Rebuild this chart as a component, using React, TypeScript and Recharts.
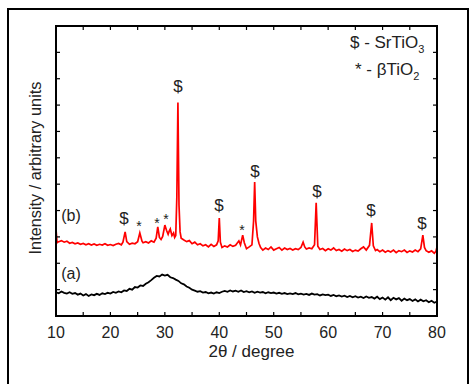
import { LineChart, Line, XAxis, YAxis, ReferenceDot, ReferenceLine } from 'recharts';

const FONT = '"Liberation Sans", Arial, Helvetica, sans-serif';

// (a) amorphous sample, 0.5 degree steps
const twoThetaA = [
  10, 10.5, 11, 11.5, 12, 12.5, 13, 13.5, 14, 14.5, 15, 15.5, 16, 16.5, 17, 17.5, 18, 18.5, 19, 19.5,
  20, 20.5, 21, 21.5, 22, 22.5, 23, 23.5, 24, 24.5, 25, 25.5, 26, 26.5, 27, 27.5, 28, 28.5, 29, 29.5,
  30, 30.5, 31, 31.5, 32, 32.5, 33, 33.5, 34, 34.5, 35, 35.5, 36, 36.5, 37, 37.5, 38, 38.5, 39, 39.5,
  40, 40.5, 41, 41.5, 42, 42.5, 43, 43.5, 44, 44.5, 45, 45.5, 46, 46.5, 47, 47.5, 48, 48.5, 49, 49.5,
  50, 50.5, 51, 51.5, 52, 52.5, 53, 53.5, 54, 54.5, 55, 55.5, 56, 56.5, 57, 57.5, 58, 58.5, 59, 59.5,
  60, 60.5, 61, 61.5, 62, 62.5, 63, 63.5, 64, 64.5, 65, 65.5, 66, 66.5, 67, 67.5, 68, 68.5, 69, 69.5,
  70, 70.5, 71, 71.5, 72, 72.5, 73, 73.5, 74, 74.5, 75, 75.5, 76, 76.5, 77, 77.5, 78, 78.5, 79, 79.5,
  80,
];
const intensityA = [
  0.9, 0.86, 0.93, 0.88, 0.85, 0.9, 0.84, 0.87, 0.81, 0.85, 0.78, 0.83, 0.76, 0.82, 0.79, 0.84, 0.8, 0.86, 0.83, 0.88,
  0.85, 0.91, 0.88, 0.93, 0.9, 0.97, 0.95, 1.03, 1.0, 1.1, 1.08, 1.16, 1.14, 1.22, 1.28, 1.36, 1.45, 1.52, 1.5, 1.57,
  1.53, 1.56, 1.47, 1.44, 1.38, 1.33, 1.24, 1.2, 1.12, 1.07, 1.0, 0.96, 0.92, 0.94, 0.89, 0.91, 0.86, 0.89, 0.85, 0.9,
  0.87, 0.92, 0.95, 0.92, 0.97, 0.93, 0.96, 0.92, 0.97, 0.91, 0.94, 0.9, 0.93, 0.88, 0.92, 0.89, 0.91, 0.86, 0.9, 0.87,
  0.89, 0.85, 0.88, 0.84, 0.87, 0.83, 0.86, 0.83, 0.87, 0.82, 0.85, 0.81, 0.84, 0.8, 0.85, 0.81, 0.83, 0.78, 0.82, 0.79,
  0.81, 0.76, 0.8, 0.75, 0.78, 0.74, 0.77, 0.72, 0.76, 0.71, 0.75, 0.7, 0.73, 0.68, 0.74, 0.69, 0.72, 0.66, 0.73, 0.64,
  0.7, 0.62, 0.71, 0.6, 0.69, 0.63, 0.68, 0.58, 0.66, 0.6, 0.64, 0.57, 0.63, 0.55, 0.62, 0.56, 0.6, 0.52, 0.58, 0.5,
  0.55,
];

// (b) crystallised sample, denser around the peaks
const twoThetaB = [
  10, 10.2, 10.5, 11, 11.5, 12, 12.5, 13, 13.5, 14, 14.5, 15, 15.5, 16, 16.5, 17, 17.5, 18, 18.5, 19, 19.5,
  20, 20.5, 21, 21.5, 22, 22.3, 22.7, 23, 23.5, 24, 24.5, 25, 25.4, 25.8, 26, 26.5, 27, 27.5, 28, 28.4, 28.7,
  29, 29.3, 29.6, 30, 30.3, 30.6, 30.8, 31, 31.3, 31.6, 31.8, 32, 32.2, 32.4, 32.6, 32.8, 33, 33.5, 34, 34.5,
  35, 35.5, 36, 36.5, 37, 37.5, 38, 38.5, 39, 39.5, 39.8, 40, 40.2, 40.5, 41, 41.5, 42, 42.5, 43, 43.6, 43.9,
  44.3, 44.6, 45, 45.5, 46, 46.3, 46.5, 46.7, 47, 47.3, 47.6, 48, 48.5, 49, 49.5, 50, 50.5, 51, 51.5, 52, 52.5,
  53, 53.5, 54, 54.5, 55, 55.4, 55.7, 56, 56.5, 57, 57.5, 57.8, 58.1, 58.5, 59, 59.5, 60, 60.5, 61, 61.5, 62,
  62.5, 63, 63.5, 64, 64.5, 65, 65.5, 66, 66.5, 67, 67.6, 68, 68.3, 68.7, 69, 69.5, 70, 70.5, 71, 71.5, 72,
  72.5, 73, 73.5, 74, 74.5, 75, 75.5, 76, 76.5, 77, 77.4, 77.7, 78, 78.5, 79, 79.5, 79.8, 80,
];
const intensityB = [
  3.3, 2.78, 2.82, 2.86, 2.8, 2.84, 2.76, 2.79, 2.74, 2.77, 2.72, 2.75, 2.7, 2.74, 2.69, 2.73, 2.68, 2.72, 2.69, 2.74, 2.68,
  2.71, 2.67, 2.72, 2.75, 2.7, 2.8, 3.19, 2.82, 2.72, 2.76, 2.74, 2.82, 3.15, 2.84, 2.78, 2.82, 2.77, 2.85, 2.8, 2.95, 3.38,
  2.98, 2.9, 3.02, 3.45, 3.25, 3.1, 3.22, 3.3, 3.05, 3.15, 2.98, 3.05, 4.5, 8.1, 4.2, 3.19, 2.95, 2.88, 2.82, 2.86,
  2.74, 2.8, 2.7, 2.74, 2.66, 2.7, 2.62, 2.72, 2.64, 2.7, 2.85, 3.72, 2.8, 2.6, 2.66, 2.62, 2.7, 2.64, 2.68, 2.85, 2.7,
  3.07, 2.78, 2.55, 2.62, 2.7, 3.6, 5.08, 3.6, 3.0, 2.75, 2.6, 2.5, 2.58, 2.52, 2.62, 2.5, 2.55, 2.6, 2.5, 2.58, 2.52,
  2.56, 2.5, 2.55, 2.52, 2.6, 2.8, 2.62, 2.54, 2.58, 2.55, 2.7, 4.29, 2.65, 2.52, 2.56, 2.48, 2.55, 2.5, 2.58, 2.48, 2.52,
  2.46, 2.54, 2.48, 2.52, 2.45, 2.5, 2.46, 2.55, 2.62, 2.5, 2.68, 3.53, 2.66, 2.48, 2.52, 2.44, 2.5, 2.42, 2.48, 2.43, 2.5,
  2.4, 2.48, 2.44, 2.5, 2.41, 2.47, 2.43, 2.5, 2.44, 2.55, 3.07, 2.6, 2.48, 2.42, 2.47, 2.38, 2.45, 2.62,
];

// peak markers: $ = SrTiO3, * = beta-TiO2
const markX = [22.5, 25.25, 28.56, 30.2, 32.41, 39.95, 44.17, 46.56, 57.95, 67.87, 77.24];
const markY = [3.68, 3.53, 3.64, 3.79, 8.69, 4.21, 3.38, 5.5, 4.74, 4.02, 3.49];
const markText = ['$', '*', '*', '*', '$', '$', '*', '$', '$', '$', '$'];

const xTicks = [10, 15, 20, 25, 30, 35, 40, 45, 50, 55, 60, 65, 70, 75, 80];
const yTicks = [0, 1, 2, 3, 4, 5, 6, 7, 8, 9, 10, 11];

const dataA = twoThetaA.map((x, i) => ({ x, y: intensityA[i] }));
const dataB = twoThetaB.map((x, i) => ({ x, y: intensityB[i] }));

const axisLine = { stroke: '#000', strokeWidth: 1.6 };

const centerText = (text: string, size: number, dy = 0) => (props: any) => {
  const vb = props.viewBox || {};
  const cx = (vb.x ?? 0) + (vb.width ?? 0) / 2;
  const cy = (vb.y ?? 0) + (vb.height ?? 0) / 2;
  return (
    <text x={cx} y={cy + dy} textAnchor="middle" dominantBaseline="central" fontSize={size} fill="#222" fontFamily={FONT}>
      {text}
    </text>
  );
};

const legendText = (main: string, sub: string) => (props: any) => {
  const vb = props.viewBox || {};
  return (
    <text x={vb.x} y={vb.y} fontSize={17} fill="#222" fontFamily={FONT}>
      {main}
      <tspan dy={5} fontSize={11}>{sub}</tspan>
    </text>
  );
};

const noLabel = () => '';

export default function App() {
  return (
    <div style={{ position: 'absolute', left: 0, top: 0, width: 469, height: 384, overflow: 'hidden', background: '#fff' }}>
      <div
        style={{
          position: 'absolute', left: 7, top: 8, width: 462, height: 400,
          border: '2px solid #000', boxSizing: 'border-box',
        }}
      />
      <div style={{ position: 'absolute', left: 0, top: 0, zIndex: 1 }}>
        <LineChart width={469} height={384} margin={{ top: 25, right: 0, bottom: 38, left: 0 }}>
          <XAxis
            xAxisId="b"
            type="number"
            dataKey="x"
            domain={[10, 80]}
            ticks={xTicks}
            allowDataOverflow
            tickFormatter={(v) => (v % 10 === 0 ? String(v) : '')}
            tickSize={-4}
            tickMargin={15}
            height={30}
            stroke="#000"
            axisLine={axisLine}
            tickLine={{ stroke: '#000', strokeWidth: 1.2 }}
            tick={{ fill: '#222', fontSize: 16, fontFamily: FONT }}
            label={(props: any) => {
              const vb = props.viewBox || {};
              return (
                <text x={vb.x + vb.width / 2 + 5} y={357} textAnchor="middle" fontSize={17} fill="#222" fontFamily={FONT}>
                  2θ / degree
                </text>
              );
            }}
          />
          <XAxis
            xAxisId="t"
            orientation="top"
            type="number"
            dataKey="x"
            domain={[10, 80]}
            ticks={xTicks}
            allowDataOverflow
            tickFormatter={noLabel}
            tickSize={-4}
            height={1}
            stroke="#000"
            axisLine={axisLine}
            tickLine={{ stroke: '#000', strokeWidth: 1.2 }}
          />
          <YAxis
            yAxisId="l"
            type="number"
            domain={[0, 11]}
            ticks={yTicks}
            allowDataOverflow
            tickFormatter={noLabel}
            tickSize={-4}
            width={56}
            stroke="#000"
            axisLine={axisLine}
            tickLine={{ stroke: '#000', strokeWidth: 1.2 }}
            label={(props: any) => {
              const vb = props.viewBox || {};
              const cy = vb.y + vb.height / 2 - 3;
              return (
                <text x={35} y={cy} transform={`rotate(-90 35 ${cy})`} textAnchor="middle" dominantBaseline="central" fontSize={16.3} fill="#222" fontFamily={FONT}>
                  Intensity / arbitrary units
                </text>
              );
            }}
          />
          <YAxis
            yAxisId="r"
            orientation="right"
            type="number"
            domain={[0, 11]}
            ticks={yTicks}
            allowDataOverflow
            tickFormatter={noLabel}
            tickSize={-4}
            width={32}
            stroke="#000"
            axisLine={axisLine}
            tickLine={{ stroke: '#000', strokeWidth: 1.2 }}
          />
          {/* plot frame through the chart's own scales */}
          <ReferenceLine xAxisId="b" yAxisId="l" x={10} stroke="#000" strokeWidth={1.6} ifOverflow="visible" />
          <ReferenceLine xAxisId="b" yAxisId="l" x={80} stroke="#000" strokeWidth={1.6} ifOverflow="visible" />
          <ReferenceLine xAxisId="b" yAxisId="l" y={11} stroke="#000" strokeWidth={1.6} ifOverflow="visible" />
          <ReferenceLine xAxisId="b" yAxisId="l" y={0} stroke="#000" strokeWidth={1.6} ifOverflow="visible" />
          <Line
            xAxisId="b"
            yAxisId="l"
            data={dataA}
            dataKey="y"
            type="linear"
            stroke="#000"
            strokeWidth={1.8}
            dot={false}
            isAnimationActive={false}
          />
          <Line
            xAxisId="b"
            yAxisId="l"
            data={dataB}
            dataKey="y"
            type="linear"
            stroke="#ff0000"
            strokeWidth={1.7}
            dot={false}
            isAnimationActive={false}
          />
          {markX.map((x, i) => (
            <ReferenceDot
              key={i}
              xAxisId="b"
              yAxisId="l"
              x={x}
              y={markY[i]}
              r={0}
              fill="none"
              stroke="none"
              label={markText[i] === '$' ? centerText('$', 17) : centerText('*', 14, 3)}
            />
          ))}
          <ReferenceDot xAxisId="b" yAxisId="l" x={12.76} y={3.81} r={0} fill="none" stroke="none" label={centerText('(b)', 16)} />
          <ReferenceDot xAxisId="b" yAxisId="l" x={12.76} y={1.61} r={0} fill="none" stroke="none" label={centerText('(a)', 16)} />
          <ReferenceDot xAxisId="b" yAxisId="l" x={64.01} y={10.17} r={0} fill="none" stroke="none" label={legendText('$ - SrTiO', '3')} />
          <ReferenceDot xAxisId="b" yAxisId="l" x={64.93} y={9.14} r={0} fill="none" stroke="none" label={legendText('* - βTiO', '2')} />
        </LineChart>
      </div>
      {/* plot frame, drawn on top */}
      <div
        style={{
          position: 'absolute', left: 55, top: 25, width: 383, height: 292, zIndex: 2,
          border: '2px solid #000', boxSizing: 'border-box', pointerEvents: 'none',
        }}
      />
    </div>
  );
}
